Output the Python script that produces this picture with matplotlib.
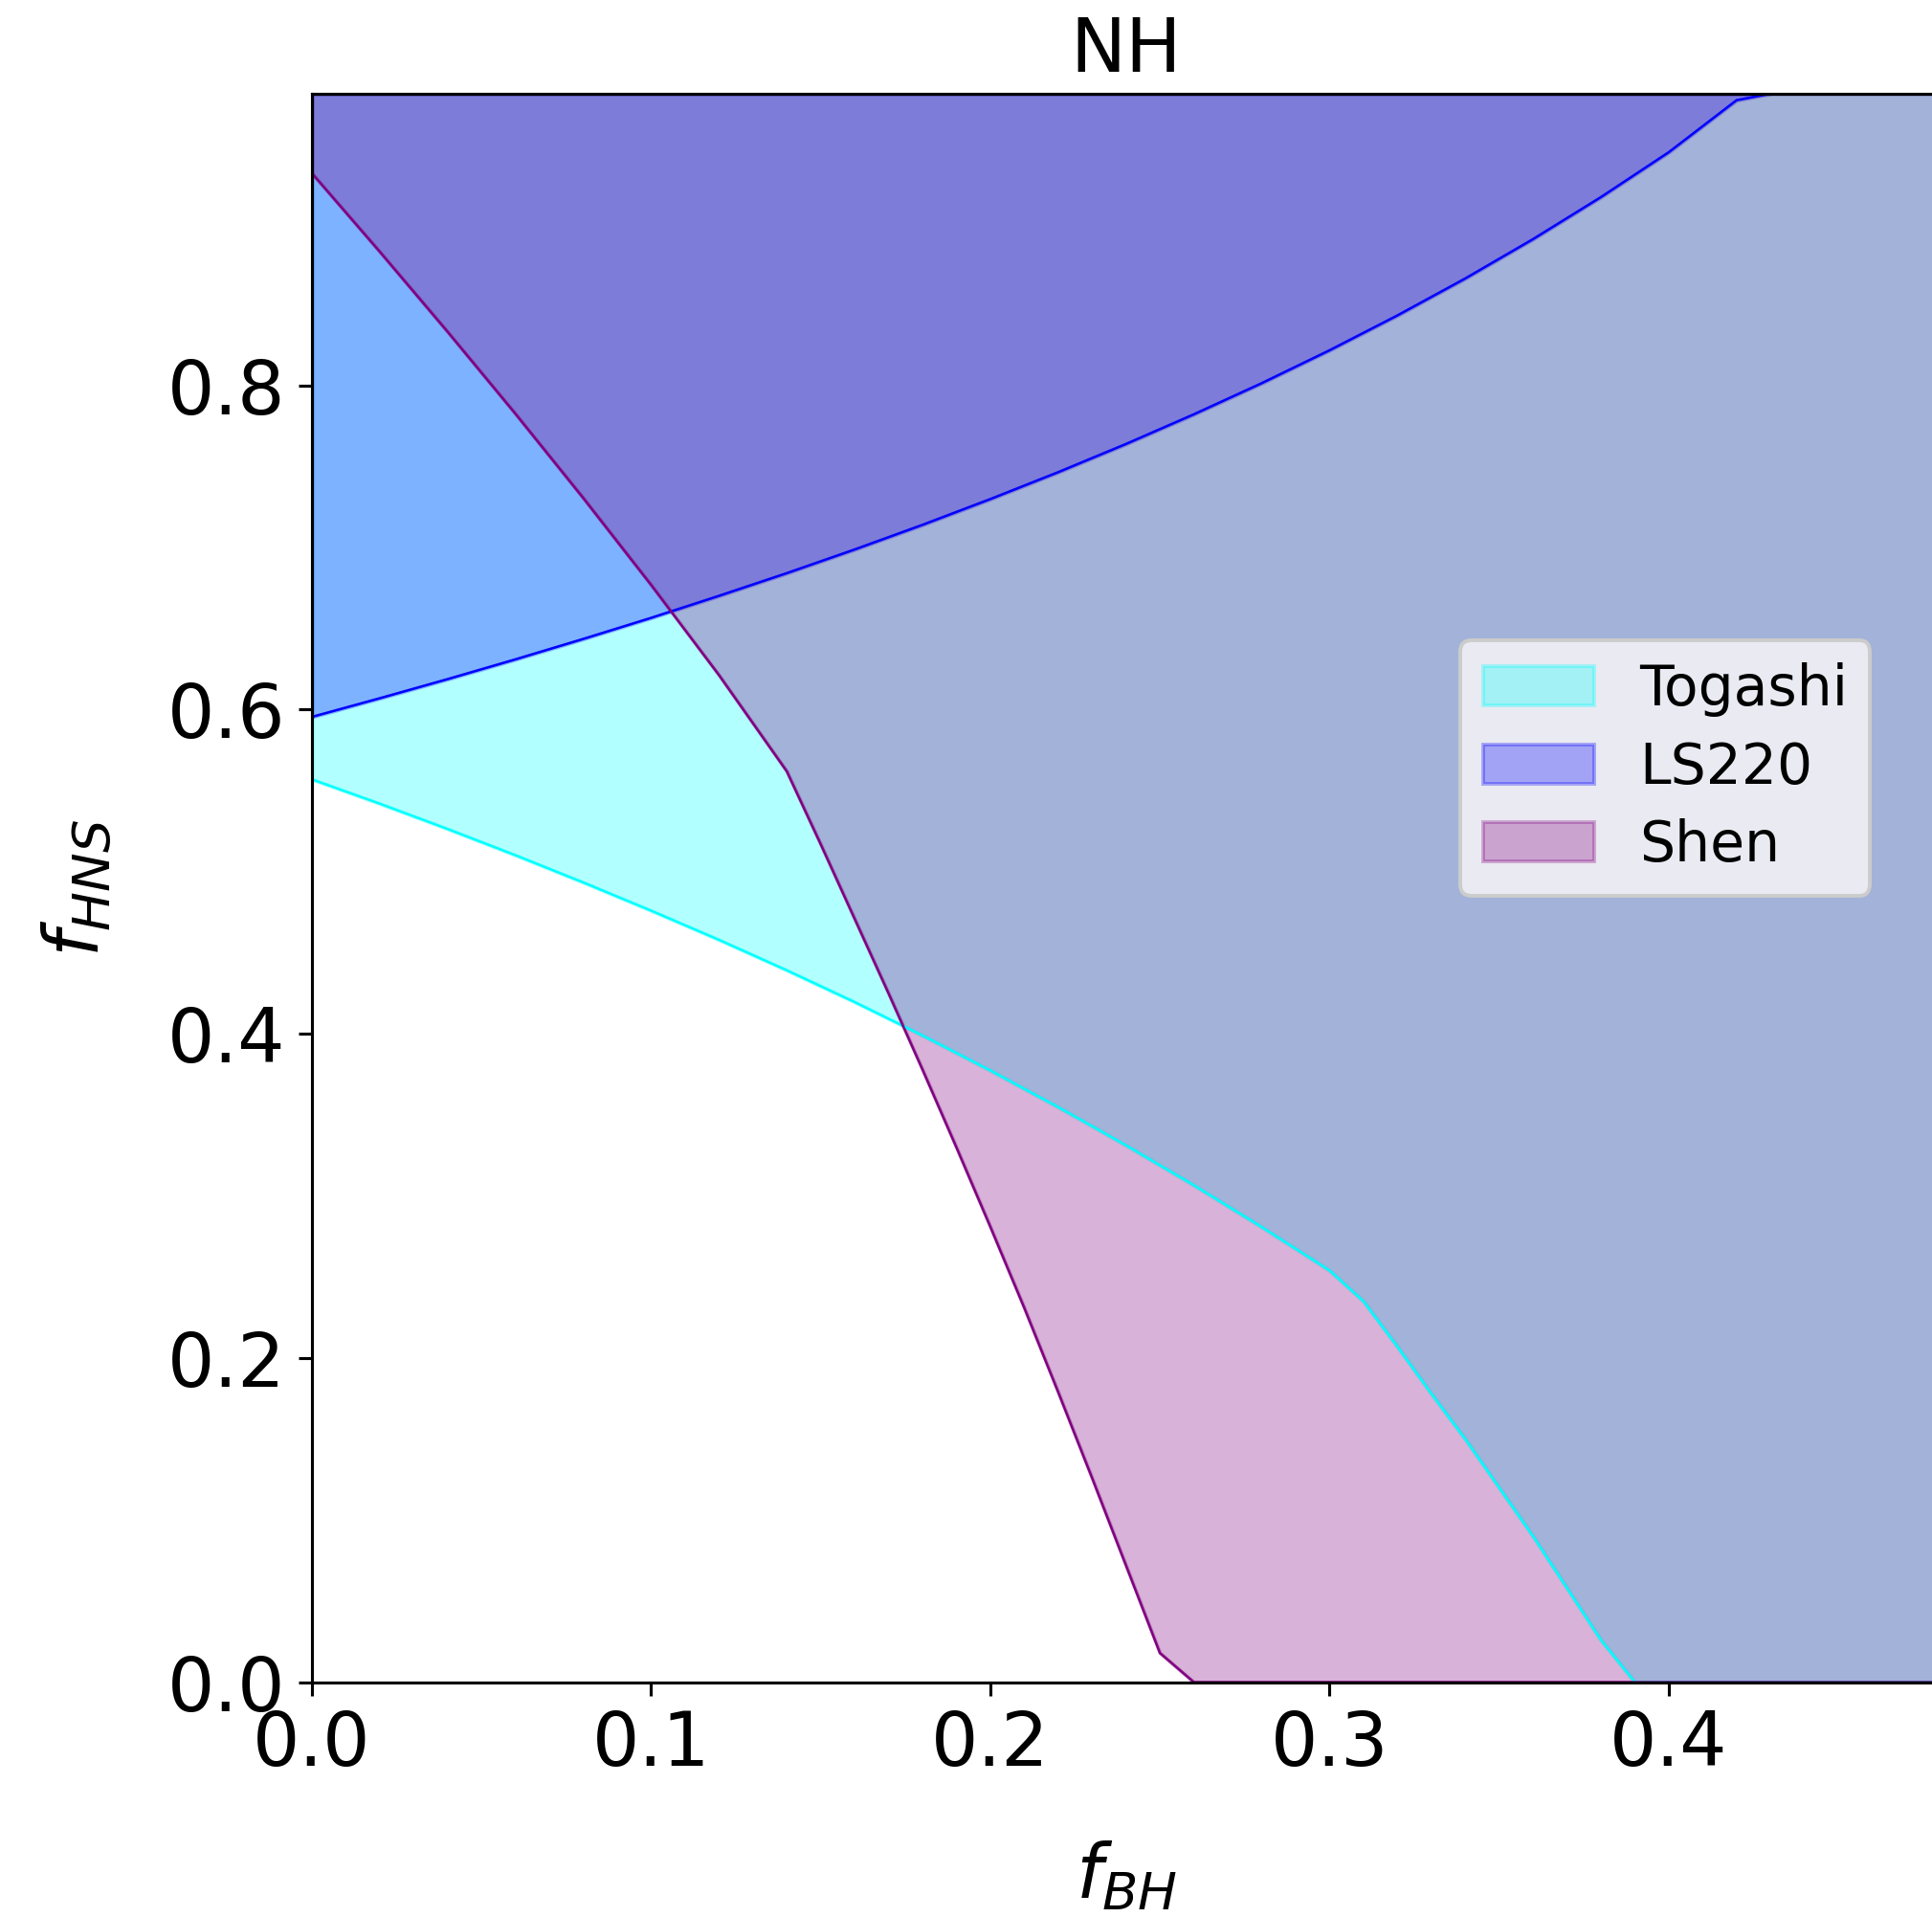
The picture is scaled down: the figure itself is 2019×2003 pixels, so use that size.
import matplotlib.pyplot as plt

# Lower boundary of the allowed f_HNS for each EOS, as a function of f_BH (NH)
fbh_togashi = [0.0, 0.02, 0.04, 0.06, 0.08, 0.10, 0.12, 0.14, 0.16, 0.18, 0.20, 0.22,
               0.24, 0.26, 0.28, 0.30, 0.31, 0.32, 0.33, 0.34, 0.35, 0.36, 0.37, 0.38,
               0.39, 0.50]
fhns_togashi = [0.557, 0.542, 0.5264, 0.5102, 0.4934, 0.476, 0.458, 0.4392, 0.4196, 0.399,
                0.3774, 0.3548, 0.3312, 0.3066, 0.2808, 0.254, 0.235, 0.207, 0.178, 0.150,
                0.120, 0.090, 0.058, 0.026, 0.0, 0.0]

fbh_ls220 = [0.0, 0.02, 0.04, 0.06, 0.08, 0.10, 0.12, 0.14, 0.16, 0.18, 0.20, 0.22,
             0.24, 0.26, 0.28, 0.30, 0.32, 0.34, 0.36, 0.38, 0.40, 0.42, 0.43]
fhns_ls220 = [0.5955, 0.607, 0.6188, 0.631, 0.6436, 0.6566, 0.6702, 0.6842, 0.6988, 0.714,
              0.7299, 0.7465, 0.7639, 0.7822, 0.8014, 0.8217, 0.8432, 0.866, 0.8903, 0.9162,
              0.9439, 0.976, 0.98]

fbh_shen = [0.0, 0.02, 0.04, 0.06, 0.08, 0.10, 0.12, 0.14, 0.15, 0.16, 0.17, 0.18,
            0.19, 0.20, 0.21, 0.22, 0.23, 0.24, 0.25, 0.26, 0.50]
fhns_shen = [0.931, 0.8826, 0.8332, 0.7826, 0.7306, 0.677, 0.6214, 0.562, 0.517, 0.471,
             0.425, 0.378, 0.330, 0.281, 0.231, 0.179, 0.126, 0.072, 0.018, 0.0, 0.0]

fhns_max = 0.98

eos = [
    ("Togashi", fbh_togashi, fhns_togashi, "cyan"),
    ("LS220", fbh_ls220, fhns_ls220, "blue"),
    ("Shen", fbh_shen, fhns_shen, "purple"),
]

dpi = 280
fig = plt.figure(figsize=(2019 / dpi, 2003 / dpi), dpi=dpi)
ax = fig.add_axes([0.1614, 0.1225, 0.8428, 0.8286])

# Zones permises : du bord inférieur jusqu'au maximum de f_HNS
for name, x, y, c in eos:
    ax.fill_between(x, y, fhns_max, color=c, alpha=0.3, label=name)
for name, x, y, c in eos:
    ax.plot(x, y, color=c, lw=0.65)

ax.set_xlim(0, 0.48)
ax.set_ylim(0, fhns_max)
ax.set_yticks([0.0, 0.2, 0.4, 0.6, 0.8])
ax.tick_params(labelsize=20)

ax.set_title("NH", fontsize=20)
ax.set_xlabel("$f_{BH}$", fontsize=20, labelpad=16)
ax.set_ylabel("$f_{HNS}$", fontsize=20, labelpad=14)

ax.legend(loc="upper right", bbox_to_anchor=(0.957, 0.656), borderaxespad=0,
          fontsize=15, labelspacing=0.42, facecolor="#EAEAF2", edgecolor="0.8",
          framealpha=1.0)

fig.savefig("out.png", dpi=dpi)
